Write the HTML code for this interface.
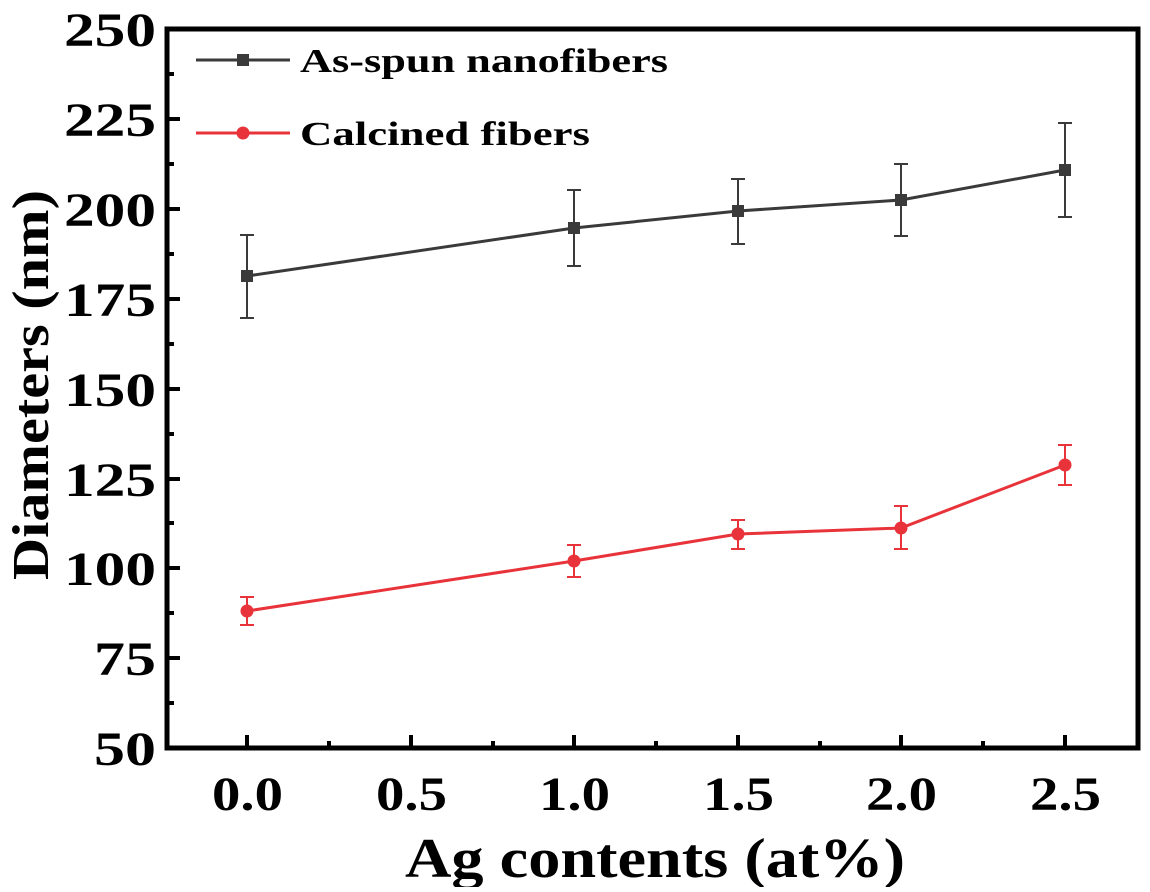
<!DOCTYPE html>
<html><head><style>body{margin:0;background:#fff}</style></head><body>
<svg width="1150" height="887" xmlns="http://www.w3.org/2000/svg" font-family="Liberation Serif, serif" font-weight="bold">
<rect x="167" y="29" width="971" height="719" fill="none" stroke="#000" stroke-width="5"/>
<g stroke="#000" stroke-width="4">
<line x1="167" x2="180" y1="29" y2="29"/><line x1="167" x2="174" y1="74" y2="74"/>
<line x1="167" x2="180" y1="119" y2="119"/><line x1="167" x2="174" y1="164" y2="164"/>
<line x1="167" x2="180" y1="209" y2="209"/><line x1="167" x2="174" y1="254" y2="254"/>
<line x1="167" x2="180" y1="299" y2="299"/><line x1="167" x2="174" y1="344" y2="344"/>
<line x1="167" x2="180" y1="389" y2="389"/><line x1="167" x2="174" y1="434" y2="434"/>
<line x1="167" x2="180" y1="479" y2="479"/><line x1="167" x2="174" y1="523" y2="523"/>
<line x1="167" x2="180" y1="568" y2="568"/><line x1="167" x2="174" y1="613" y2="613"/>
<line x1="167" x2="180" y1="658" y2="658"/><line x1="167" x2="174" y1="703" y2="703"/>
<line x1="247" x2="247" y1="748" y2="735"/><line x1="329" x2="329" y1="748" y2="741"/>
<line x1="411" x2="411" y1="748" y2="735"/><line x1="493" x2="493" y1="748" y2="741"/>
<line x1="574" x2="574" y1="748" y2="735"/><line x1="656" x2="656" y1="748" y2="741"/>
<line x1="738" x2="738" y1="748" y2="735"/><line x1="820" x2="820" y1="748" y2="741"/>
<line x1="901" x2="901" y1="748" y2="735"/><line x1="983" x2="983" y1="748" y2="741"/>
<line x1="1065" x2="1065" y1="748" y2="735"/>
</g>
<g font-size="48" text-anchor="end">
<text x="156" y="46" textLength="92" lengthAdjust="spacingAndGlyphs">250</text>
<text x="156" y="136" textLength="92" lengthAdjust="spacingAndGlyphs">225</text>
<text x="156" y="226" textLength="92" lengthAdjust="spacingAndGlyphs">200</text>
<text x="156" y="316" textLength="92" lengthAdjust="spacingAndGlyphs">175</text>
<text x="156" y="406" textLength="92" lengthAdjust="spacingAndGlyphs">150</text>
<text x="156" y="496" textLength="92" lengthAdjust="spacingAndGlyphs">125</text>
<text x="156" y="585" textLength="92" lengthAdjust="spacingAndGlyphs">100</text>
<text x="156" y="675" textLength="62" lengthAdjust="spacingAndGlyphs">75</text>
<text x="156" y="765" textLength="62" lengthAdjust="spacingAndGlyphs">50</text>
</g>
<g font-size="48">
<text x="212" y="810" textLength="71" lengthAdjust="spacingAndGlyphs">0.0</text>
<text x="376" y="810" textLength="71" lengthAdjust="spacingAndGlyphs">0.5</text>
<text x="539" y="810" textLength="71" lengthAdjust="spacingAndGlyphs">1.0</text>
<text x="703" y="810" textLength="71" lengthAdjust="spacingAndGlyphs">1.5</text>
<text x="866" y="810" textLength="71" lengthAdjust="spacingAndGlyphs">2.0</text>
<text x="1030" y="810" textLength="71" lengthAdjust="spacingAndGlyphs">2.5</text>
</g>
<text x="405" y="877" font-size="56" textLength="500" lengthAdjust="spacingAndGlyphs">Ag contents (at%)</text>
<text transform="translate(48,580) rotate(-90)" font-size="52" textLength="390" lengthAdjust="spacingAndGlyphs">Diameters (nm)</text>
<g stroke="#3a3a3a" stroke-width="2" fill="none">
<polyline stroke-width="3" points="247,276 574,228 738,211 901,200 1065,170"/>
<path d="M247,235V318M240,235h14M240,318h14 M574,190V266M567,190h14M567,266h14 M738,179V244M731,179h14M731,244h14 M901,164V236M894,164h14M894,236h14 M1065,123V217M1058,123h14M1058,217h14"/>
</g>
<g fill="#3a3a3a">
<rect x="241" y="270" width="12" height="12"/><rect x="568" y="222" width="12" height="12"/>
<rect x="732" y="205" width="12" height="12"/><rect x="895" y="194" width="12" height="12"/>
<rect x="1059" y="164" width="12" height="12"/>
</g>
<g stroke="#e8333a" stroke-width="2" fill="none">
<polyline stroke-width="3" points="247,611 574,561 738,534 901,528 1065,465"/>
<path d="M247,597V625M240,597h14M240,625h14 M574,545V577M567,545h14M567,577h14 M738,520V549M731,520h14M731,549h14 M901,506V549M894,506h14M894,549h14 M1065,445V485M1058,445h14M1058,485h14"/>
</g>
<g fill="#e8333a">
<circle cx="247" cy="611" r="6.5"/><circle cx="574" cy="561" r="6.5"/><circle cx="738" cy="534" r="6.5"/>
<circle cx="901" cy="528" r="6.5"/><circle cx="1065" cy="465" r="6.5"/>
</g>
<line x1="196" x2="290" y1="60" y2="60" stroke="#3a3a3a" stroke-width="3"/>
<rect x="237" y="54" width="12" height="12" fill="#3a3a3a"/>
<text x="300" y="72" font-size="34" textLength="368" lengthAdjust="spacingAndGlyphs">As-spun nanofibers</text>
<line x1="196" x2="290" y1="133" y2="133" stroke="#e8333a" stroke-width="3"/>
<circle cx="243" cy="133" r="6.5" fill="#e8333a"/>
<text x="300" y="145" font-size="34" textLength="290" lengthAdjust="spacingAndGlyphs">Calcined fibers</text>
</svg>
</body></html>
